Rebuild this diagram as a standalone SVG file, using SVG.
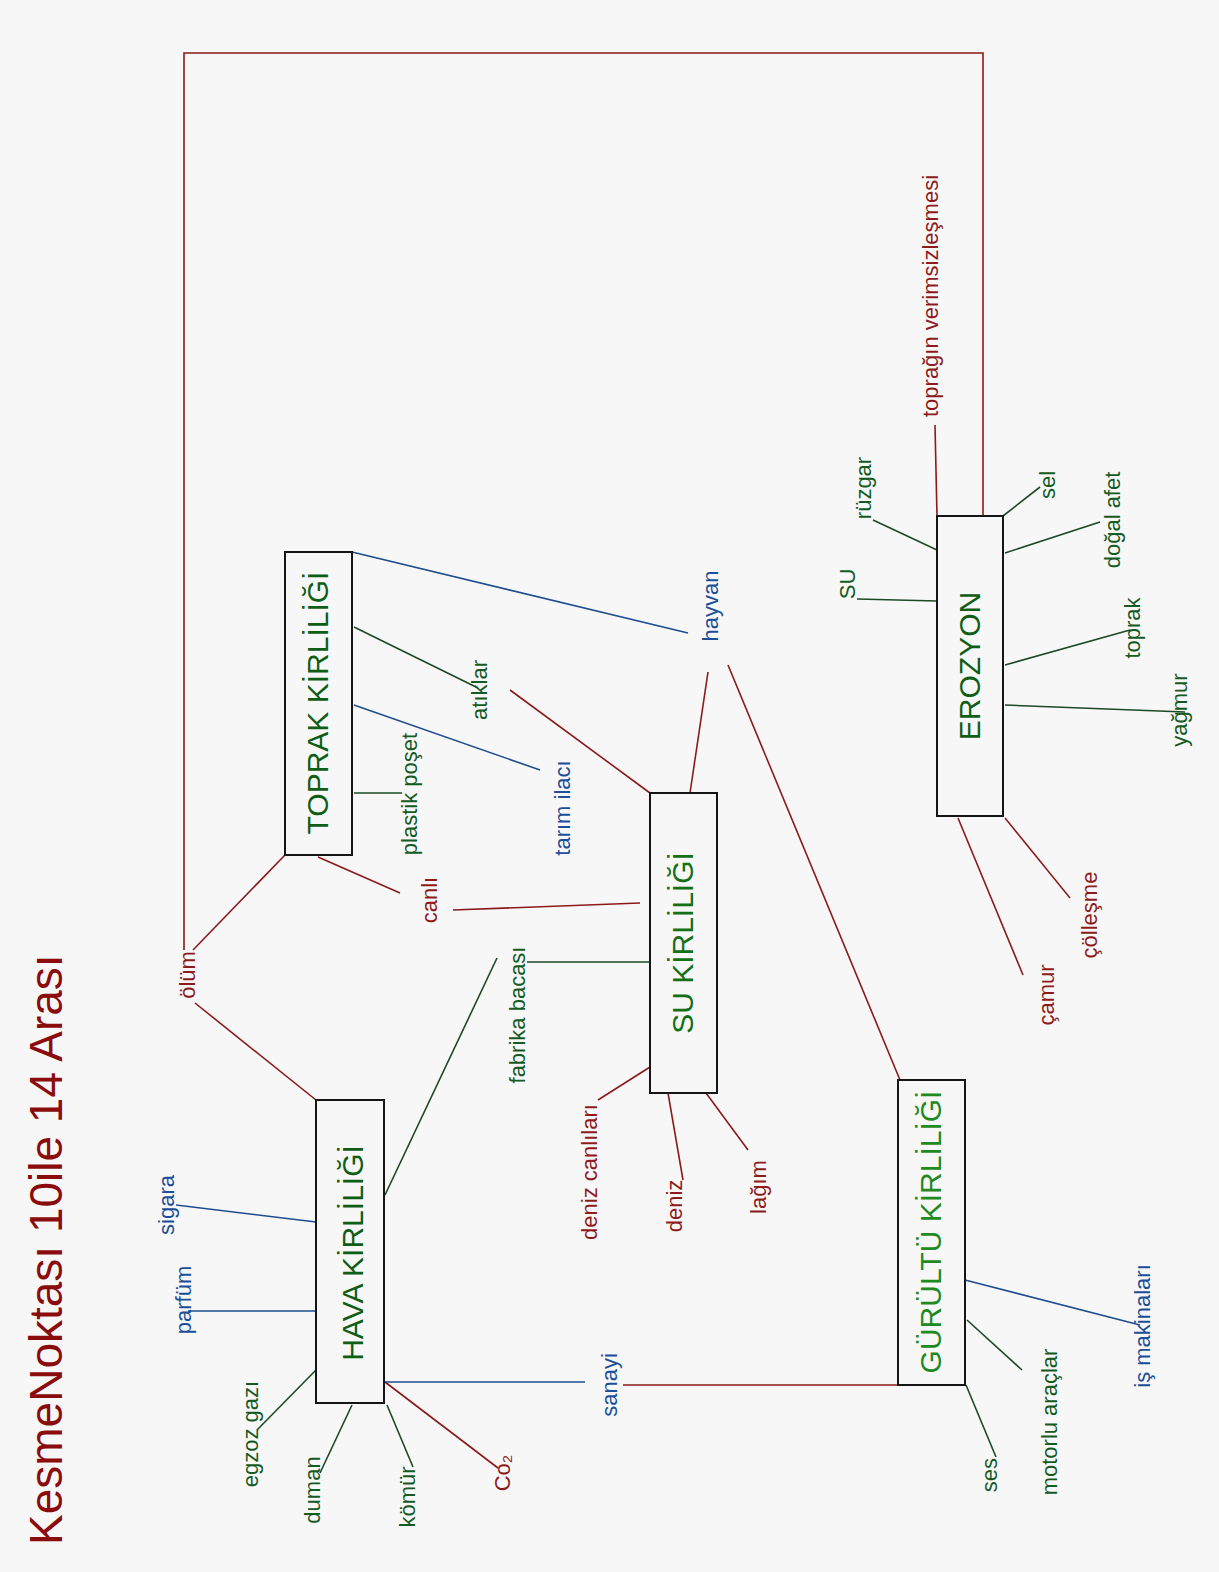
<svg xmlns="http://www.w3.org/2000/svg" width="1219" height="1572" viewBox="0 0 1219 1572">
<style>
text{font-family:"Liberation Sans",Arial,sans-serif}
.box{fill:none;stroke:#151515;stroke-width:2}
.title{font-size:30px;text-anchor:middle;fill:#0f5e16}
.lbl{font-size:22px;text-anchor:middle}
.g{fill:#145a23}.b{fill:#1b4f9a}.r{fill:#8e1b1b}
.c line,.c polyline{fill:none;stroke-width:1.6}
.lr{stroke:#8b1a1a}.lb{stroke:#1e4d8f}.lg{stroke:#1c4a24}
</style>
<rect width="1219" height="1572" fill="#f7f7f7"/>
<text transform="translate(62,1545) rotate(-90)" style="font-size:46px;fill:#8b0c0c">KesmeNoktası 10ile 14 Arası</text>

<g id="connectors" class="c">
<polyline class="lr" points="184,950 184,53 983,53 983,516"/>
<line class="lr" x1="195" y1="1003" x2="316" y2="1100"/>
<line class="lr" x1="193" y1="950" x2="285" y2="855"/>
<line class="lr" x1="318" y1="857" x2="400" y2="893"/>
<line class="lr" x1="453" y1="910" x2="640" y2="903"/>
<line class="lr" x1="510" y1="690" x2="650" y2="793"/>
<line class="lr" x1="708" y1="672" x2="690" y2="793"/>
<line class="lr" x1="728" y1="665" x2="900" y2="1080"/>
<line class="lr" x1="598" y1="1100" x2="650" y2="1067"/>
<line class="lr" x1="683" y1="1180" x2="668" y2="1093"/>
<line class="lr" x1="748" y1="1150" x2="706" y2="1093"/>
<line class="lr" x1="623" y1="1385" x2="898" y2="1385"/>
<line class="lr" x1="385" y1="1382" x2="498" y2="1468"/>
<line class="lr" x1="935" y1="425" x2="937" y2="516"/>
<line class="lr" x1="958" y1="818" x2="1023" y2="975"/>
<line class="lr" x1="1005" y1="818" x2="1070" y2="898"/>
<line class="lb" x1="176" y1="1205" x2="316" y2="1222"/>
<line class="lb" x1="188" y1="1311" x2="316" y2="1311"/>
<line class="lb" x1="385" y1="1382" x2="585" y2="1382"/>
<line class="lb" x1="352" y1="552" x2="688" y2="633"/>
<line class="lb" x1="354" y1="705" x2="540" y2="770"/>
<line class="lb" x1="965" y1="1280" x2="1140" y2="1325"/>
<line class="lg" x1="316" y1="1370" x2="257" y2="1430"/>
<line class="lg" x1="352" y1="1405" x2="320" y2="1473"/>
<line class="lg" x1="387" y1="1405" x2="413" y2="1467"/>
<line class="lg" x1="385" y1="1195" x2="497" y2="958"/>
<line class="lg" x1="527" y1="962" x2="650" y2="962"/>
<line class="lg" x1="354" y1="627" x2="478" y2="688"/>
<line class="lg" x1="354" y1="793" x2="402" y2="793"/>
<line class="lg" x1="967" y1="1320" x2="1022" y2="1370"/>
<line class="lg" x1="966" y1="1385" x2="996" y2="1457"/>
<line class="lg" x1="937" y1="550" x2="873" y2="520"/>
<line class="lg" x1="937" y1="601" x2="857" y2="599"/>
<line class="lg" x1="1003" y1="516" x2="1040" y2="487"/>
<line class="lg" x1="1005" y1="553" x2="1100" y2="522"/>
<line class="lg" x1="1005" y1="665" x2="1130" y2="630"/>
<line class="lg" x1="1005" y1="705" x2="1185" y2="712"/>
</g>

<g id="node-hava"><rect class="box" x="316" y="1100" width="68" height="303"/><text class="title" transform="translate(363,1253) rotate(-90)">HAVA KİRLİLİĞİ</text></g>
<g id="node-toprak"><rect class="box" x="285" y="552" width="67" height="303"/><text class="title" transform="translate(328,703) rotate(-90)">TOPRAK KİRLİLİĞİ</text></g>
<g id="node-su"><rect class="box" x="650" y="793" width="67" height="300"/><text class="title" style="fill:#137015" transform="translate(693,943) rotate(-90)">SU KİRLİLİĞİ</text></g>
<g id="node-gurultu"><rect class="box" x="898" y="1080" width="67" height="305"/><text class="title" style="fill:#1f8a22" transform="translate(941,1232) rotate(-90)">GÜRÜLTÜ KİRLİLİĞİ</text></g>
<g id="node-erozyon"><rect class="box" x="937" y="516" width="66" height="300"/><text class="title" transform="translate(980,666) rotate(-90)">EROZYON</text></g>

<g id="n-sigara"><text class="lbl b" transform="translate(174,1205) rotate(-90)">sigara</text></g>
<g id="n-parfum"><text class="lbl b" transform="translate(191,1300) rotate(-90)">parfüm</text></g>
<g id="n-egzoz"><text class="lbl g" transform="translate(258,1434) rotate(-90)">egzoz gazı</text></g>
<g id="n-duman"><text class="lbl g" transform="translate(320,1490) rotate(-90)">duman</text></g>
<g id="n-komur"><text class="lbl g" transform="translate(415,1497) rotate(-90)">kömür</text></g>
<g id="n-co2"><text class="lbl r" transform="translate(510,1473) rotate(-90)">Co₂</text></g>
<g id="n-sanayi"><text class="lbl b" transform="translate(617,1385) rotate(-90)">sanayi</text></g>
<g id="n-fabrika"><text class="lbl g" transform="translate(525,1015) rotate(-90)">fabrika bacası</text></g>
<g id="n-denizcanlilari"><text class="lbl r" transform="translate(597,1172) rotate(-90)">deniz canlıları</text></g>
<g id="n-deniz"><text class="lbl r" transform="translate(682,1206) rotate(-90)">deniz</text></g>
<g id="n-lagim"><text class="lbl r" transform="translate(766,1187) rotate(-90)">lağım</text></g>
<g id="n-olum"><text class="lbl r" transform="translate(195,975) rotate(-90)">ölüm</text></g>
<g id="n-canli"><text class="lbl r" transform="translate(437,900) rotate(-90)">canlı</text></g>
<g id="n-plastik"><text class="lbl g" transform="translate(417,794) rotate(-90)">plastik poşet</text></g>
<g id="n-atiklar"><text class="lbl g" transform="translate(487,690) rotate(-90)">atıklar</text></g>
<g id="n-tarim"><text class="lbl b" transform="translate(570,808) rotate(-90)">tarım ilacı</text></g>
<g id="n-hayvan"><text class="lbl b" transform="translate(718,606) rotate(-90)">hayvan</text></g>
<g id="n-ismak"><text class="lbl b" transform="translate(1150,1326) rotate(-90)">iş makinaları</text></g>
<g id="n-motorlu"><text class="lbl g" transform="translate(1057,1422) rotate(-90)">motorlu araçlar</text></g>
<g id="n-ses"><text class="lbl g" transform="translate(997,1475) rotate(-90)">ses</text></g>
<g id="n-ruzgar"><text class="lbl g" transform="translate(871,488) rotate(-90)">rüzgar</text></g>
<g id="n-su"><text class="lbl g" transform="translate(855,584) rotate(-90)">SU</text></g>
<g id="n-verim"><text class="lbl r" transform="translate(938,296) rotate(-90)">toprağın verimsizleşmesi</text></g>
<g id="n-sel"><text class="lbl g" transform="translate(1055,485) rotate(-90)">sel</text></g>
<g id="n-dogal"><text class="lbl g" transform="translate(1120,520) rotate(-90)">doğal afet</text></g>
<g id="n-toprak"><text class="lbl g" transform="translate(1140,628) rotate(-90)">toprak</text></g>
<g id="n-yagmur"><text class="lbl g" transform="translate(1187,710) rotate(-90)">yağmur</text></g>
<g id="n-camur"><text class="lbl r" transform="translate(1054,995) rotate(-90)">çamur</text></g>
<g id="n-colles"><text class="lbl r" transform="translate(1097,915) rotate(-90)">çölleşme</text></g>
</svg>
